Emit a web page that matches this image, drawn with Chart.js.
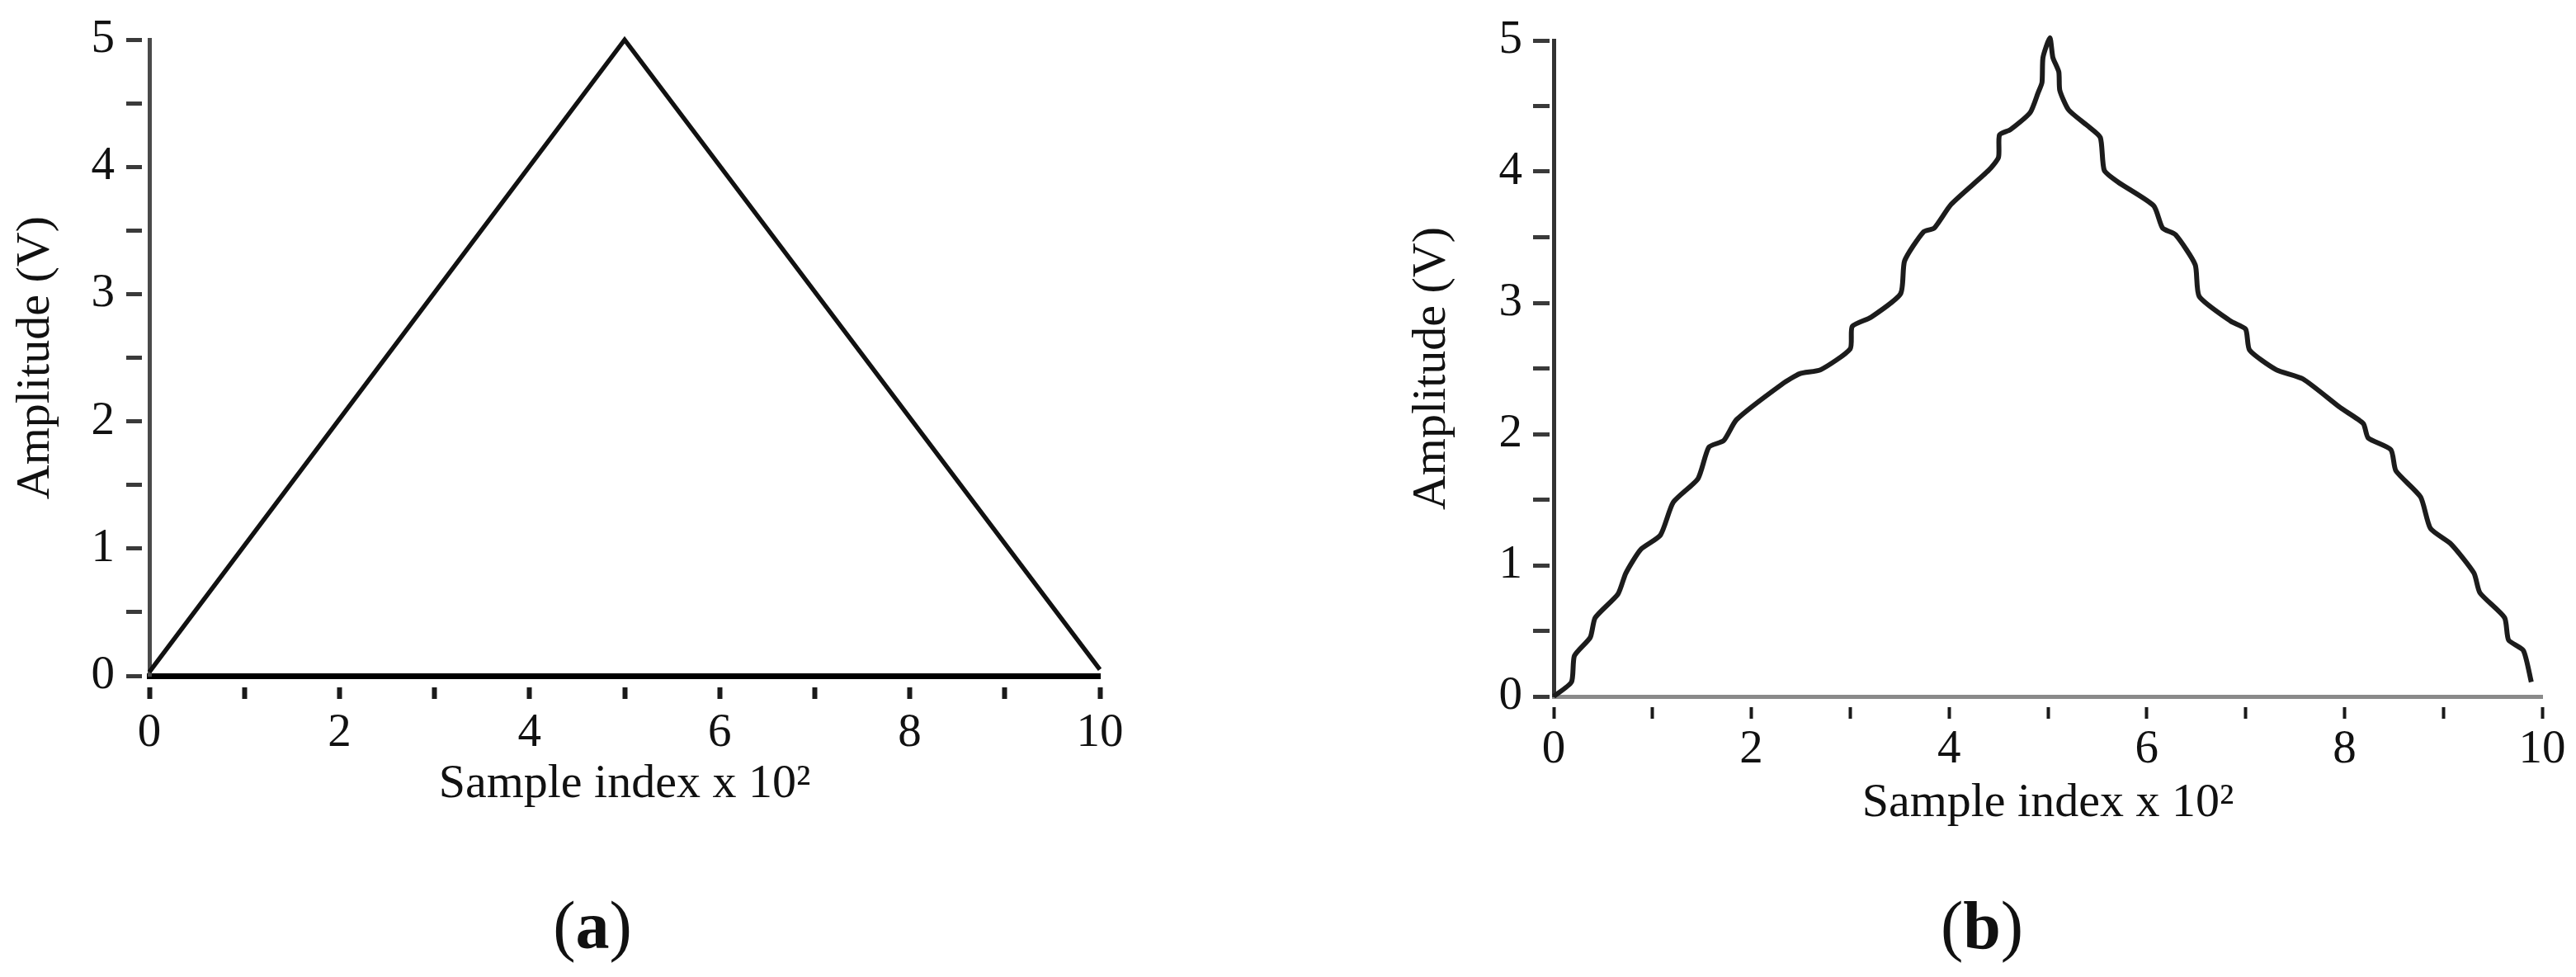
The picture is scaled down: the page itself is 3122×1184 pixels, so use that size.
<!DOCTYPE html>
<html>
<head>
<meta charset="utf-8">
<script src="https://cdn.jsdelivr.net/npm/chart.js@4.4.1/dist/chart.umd.min.js"></script>
<style>
  body { margin: 0; background: #fff; width: 3122px; height: 1184px; position: relative; overflow: hidden; }
  .panel { position: absolute; top: 0; }
  .panel canvas { display: block; }
  .caption {
    position: absolute; width: 200px; text-align: center;
    font-family: "Liberation Serif", serif; font-size: 82px; line-height: 100px; color: #111;
  }
</style>
</head>
<body>
<div class="panel" style="left:0"><canvas id="chartA" width="1500" height="1010"></canvas></div>
<div class="panel" style="left:1680px"><canvas id="chartB" width="1442" height="1060"></canvas></div>
<div class="caption" style="left:618px; top:1072px">(<b>a</b>)</div>
<div class="caption" style="left:2302px; top:1072px">(<b>b</b>)</div>

<script>
// ================= DATA =================
// (a) ideal triangle wave
const triX = [0, 5, 10];
const triY = [0.03, 5, 0.05];

const waveX = [0, 0.18, 0.21, 0.37, 0.42, 0.65, 0.73, 0.88, 1.08, 1.21, 1.46, 1.57, 1.72, 1.85,
  2.31, 2.49, 2.70, 3.00, 3.02, 3.21, 3.51, 3.55, 3.74, 3.85, 4.02, 4.40, 4.50, 4.51, 4.62,
  4.82, 4.90, 4.94, 4.95, 5.02, 5.05, 5.11, 5.12, 5.21, 5.40, 5.53, 5.57, 5.71, 6.07, 6.16,
  6.29, 6.49, 6.53, 6.85, 7.00, 7.04, 7.31, 7.58, 7.96, 8.19, 8.24, 8.47, 8.52, 8.77, 8.87,
  9.08, 9.31, 9.37, 9.62, 9.66, 9.81, 9.89];
const waveY = [0, 0.11, 0.31, 0.45, 0.60, 0.78, 0.94, 1.12, 1.23, 1.48, 1.66, 1.90, 1.95, 2.11,
  2.38, 2.46, 2.49, 2.65, 2.82, 2.89, 3.07, 3.32, 3.54, 3.57, 3.75, 4.01, 4.11, 4.28, 4.32,
  4.45, 4.60, 4.68, 4.87, 5.02, 4.87, 4.76, 4.62, 4.47, 4.35, 4.26, 4.01, 3.92, 3.74, 3.57,
  3.52, 3.29, 3.05, 2.86, 2.80, 2.64, 2.49, 2.42, 2.20, 2.08, 1.97, 1.88, 1.72, 1.52, 1.28,
  1.16, 0.94, 0.79, 0.60, 0.43, 0.35, 0.11];

// axis ticks and labels
const xLabelled = [0, 2, 4, 6, 8, 10];
const yLabelled = [0, 1, 2, 3, 4, 5];
const xTitle = "Sample index x 10\u00B2";
const yTitle = "Amplitude (V)";

// ================= CHART SETUP =================
Chart.defaults.font.family = "'Liberation Serif', serif";
Chart.defaults.color = "#111";

function toPoints(xs, ys) {
  return xs.map((x, i) => ({ x, y: ys[i] }));
}

function buildChart(canvasId, cfg) {
  const ctx = document.getElementById(canvasId).getContext("2d");
  return new Chart(ctx, {
    type: "scatter",
    data: {
      datasets: [{
        data: toPoints(cfg.xs, cfg.ys),
        showLine: true,
        borderColor: cfg.lineColor,
        borderWidth: cfg.lineWidth,
        pointRadius: 0,
        tension: cfg.tension,
        clip: false
      }]
    },
    options: {
      responsive: false,
      devicePixelRatio: 1,
      animation: false,
      events: [],
      layout: { padding: cfg.padding },
      plugins: { legend: { display: false }, tooltip: { enabled: false } },
      scales: {
        x: {
          type: "linear",
          min: 0, max: 10,
          afterFit: s => { s.height = cfg.xHeight; },
          border: { display: true, color: cfg.xAxisColor, width: cfg.xAxisWidth },
          grid: {
            drawOnChartArea: false,
            tickLength: cfg.xTickLen,
            tickWidth: cfg.xTickWidth,
            tickColor: "#1a1a1a",
            tickBorderDash: [0, 10, 15, 100]
          },
          ticks: {
            stepSize: 1,
            autoSkip: false,
            maxRotation: 0,
            padding: cfg.xTickPad,
            font: { size: 57 },
            callback: v => xLabelled.includes(v) ? String(v) : ""
          },
          title: {
            display: true,
            text: xTitle,
            font: { size: 58 },
            padding: { top: 0, bottom: cfg.xTitlePad }
          }
        },
        y: {
          type: "linear",
          min: 0, max: 5,
          afterFit: s => { s.width = cfg.yWidth; },
          border: { display: true, color: cfg.yAxisColor, width: 5 },
          grid: {
            drawOnChartArea: false,
            tickLength: cfg.yTickLen,
            tickWidth: 5,
            tickColor: "#3a3a3a",
            tickBorderDash: [cfg.yTickDash, 100]
          },
          ticks: {
            stepSize: 0.5,
            autoSkip: false,
            padding: cfg.yTickPad,
            font: { size: 57 },
            callback: v => yLabelled.includes(v) ? String(v) : ""
          },
          title: {
            display: true,
            text: yTitle,
            font: { size: 58 },
            padding: { top: cfg.yTitlePad, bottom: 0 }
          }
        }
      }
    }
  });
}

// ================= PANELS =================
buildChart("chartA", {
  xs: triX, ys: triY,
  lineColor: "#111", lineWidth: 5.5, tension: 0,
  padding: { left: 0, top: 40, right: 167, bottom: 0 },
  xHeight: 191, yWidth: 181,
  xAxisColor: "#000", xAxisWidth: 7, yAxisColor: "#4a4a4a",
  xTickLen: 28, xTickWidth: 6, xTickPad: 8, xTitlePad: 24,
  yTickLen: 28, yTickDash: 19, yTickPad: 14, yTitlePad: 9
});

buildChart("chartB", {
  xs: waveX, ys: waveY,
  lineColor: "#1c1c1c", lineWidth: 6, tension: 0.2,
  padding: { left: 0, top: 49, right: 41, bottom: 0 },
  xHeight: 216, yWidth: 203,
  xAxisColor: "#8a8a8a", xAxisWidth: 5, yAxisColor: "#333",
  xTickLen: 27, xTickWidth: 4, xTickPad: 4, xTitlePad: 51,
  yTickLen: 25, yTickDash: 20, yTickPad: 13, yTitlePad: 21
});
</script>
</body>
</html>
